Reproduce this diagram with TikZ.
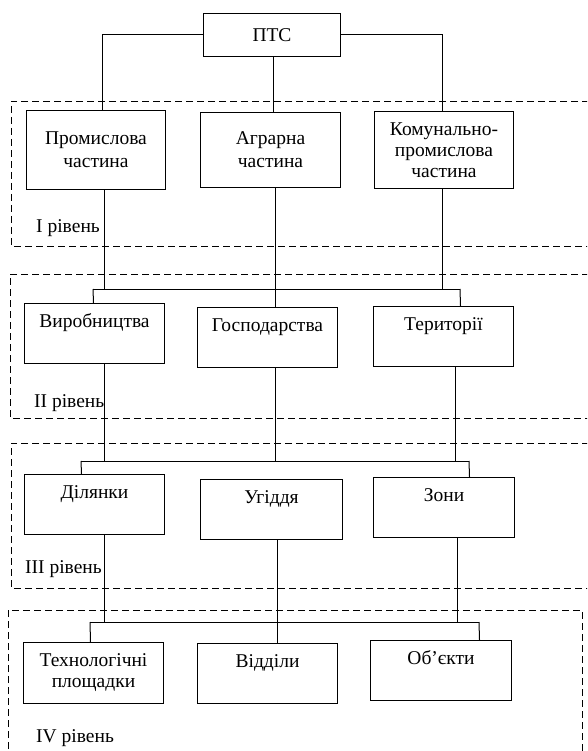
\documentclass[tikz,border=0pt]{standalone}
\usepackage{fontspec}
\setmainfont{Liberation Serif}
\begin{document}
\begin{tikzpicture}[x=1pt,y=-1pt,
	box/.style={draw, line width=1pt, anchor=north west, minimum width=140pt, inner sep=0pt, align=center, font=\rmfamily\fontsize{19.5}{23}\selectfont},
	upbox/.style={box, text height=14pt, text depth=26pt, inner ysep=10pt},
	lvl/.style={anchor=base west, inner sep=0pt, font=\rmfamily\fontsize{19.5}{23}\selectfont},
	levelframe/.style={line width=0.9pt, dash pattern=on 7pt off 4pt},
	link/.style={line width=1pt}]
			%%%%% START %%%%%
			\useasboundingbox (0,0) rectangle (587,751);
			\clip (0,0) rectangle (587,751);
			
			% dashed level frames
			\draw[levelframe] (600,101) -- (11,101) -- (11,246) -- (600,246);
			\draw[levelframe] (600,274) -- (10,274) -- (10,418) -- (600,418);
			\draw[levelframe] (600,443) -- (11,443) -- (11,588) -- (600,588);
			\draw[levelframe] (8,760) -- (8,610) -- (582,610) -- (582,760);
			
			\node[lvl] (l1) at (36,233) {I рівень};
			\node[lvl] (l2) at (34,407) {II рівень};
			\node[lvl] (l3) at (25,573) {III рівень};
			\node[lvl] (l4) at (36,742) {IV рівень};
			
			% top
			\node[box, minimum width=137pt, minimum height=43pt] (pts) at (203,13) {ПТС};
			
			% I
			\node[box, minimum width=139pt, minimum height=79pt] (prom) at (26,110) {Промислова\\частина};
			\node[box, minimum height=75pt] (agr) at (200,112) {Аграрна\\частина};
			\node[box, minimum width=139pt, minimum height=77pt, font=\rmfamily\fontsize{19.5}{21}\selectfont] (kom) at (374,111) {Комунально-\\промислова\\частина};
			
			% II
			\node[upbox] (vyr) at (24,303) {Виробництва};
			\node[upbox] (hosp) at (197,307) {Господарства};
			\node[upbox] (ter) at (373,306) {Території};
			
			% III
			\node[upbox] (dil) at (24,474) {Ділянки};
			\node[upbox, minimum width=142pt] (uhid) at (200,479) {Угіддя};
			\node[upbox, minimum width=141pt] (zon) at (373,477) {Зони};
			
			% IV
			\node[box, minimum height=61pt, font=\rmfamily\fontsize{19.5}{21}\selectfont] (tekh) at (23,642) {Технологічні\\площадки};
			\node[upbox] (vidd) at (197,643) {Відділи};
			\node[upbox, minimum width=141pt] (obj) at (370,640) {Об’єкти};
			
			\coordinate (b2l) at (93,289);
			\coordinate (b2r) at (460,289);
			\coordinate (b3l) at (81,461);
			\coordinate (b3r) at (469,461);
			\coordinate (b4l) at (90,622);
			\coordinate (b4r) at (479,622);
			
			\draw[link] (pts.west) -| ([xshift=6.5pt]prom.north);
			\draw[link] ([xshift=1.5pt]pts.south) -- ([xshift=3pt]agr.north);
			\draw[link] (pts.east) -| ([xshift=-1.5pt]kom.north);
			
			\draw[link] ([xshift=8.5pt]prom.south) |- (b2l);
			\draw[link] ([xshift=5pt]agr.south) -- ([xshift=8pt]hosp.north);
			\draw[link] ([xshift=-1.5pt]kom.south) |- (b2r);
			\draw[link] (b2l) -- (b2r);
			\draw[link] (b2l) -- ([xshift=-1pt]vyr.north);
			\draw[link] (b2r) -- ([xshift=17pt]ter.north);
			
			\draw[link] ([xshift=10pt]vyr.south) |- (b3l);
			\draw[link] ([xshift=8pt]hosp.south) -- ([xshift=8pt]hosp.south |- b3l);
			\draw[link] ([xshift=12pt]ter.south) |- (b3r);
			\draw[link] (b3l) -- (b3r);
			\draw[link] (b3l) -- ([xshift=-13pt]dil.north);
			\draw[link] (b3r) -- ([xshift=25.5pt]zon.north);
			
			\draw[link] ([xshift=10pt]dil.south) |- (b4l);
			\draw[link] ([xshift=6pt]uhid.south) -- ([xshift=10pt]vidd.north);
			\draw[link] ([xshift=13.5pt]zon.south) |- (b4r);
			\draw[link] (b4l) -- (b4r);
			\draw[link] (b4l) -- ([xshift=-3pt]tekh.north);
			\draw[link] (b4r) -- ([xshift=38.5pt]obj.north);
			
			%%%%% END %%%%%
\end{tikzpicture}
\end{document}
